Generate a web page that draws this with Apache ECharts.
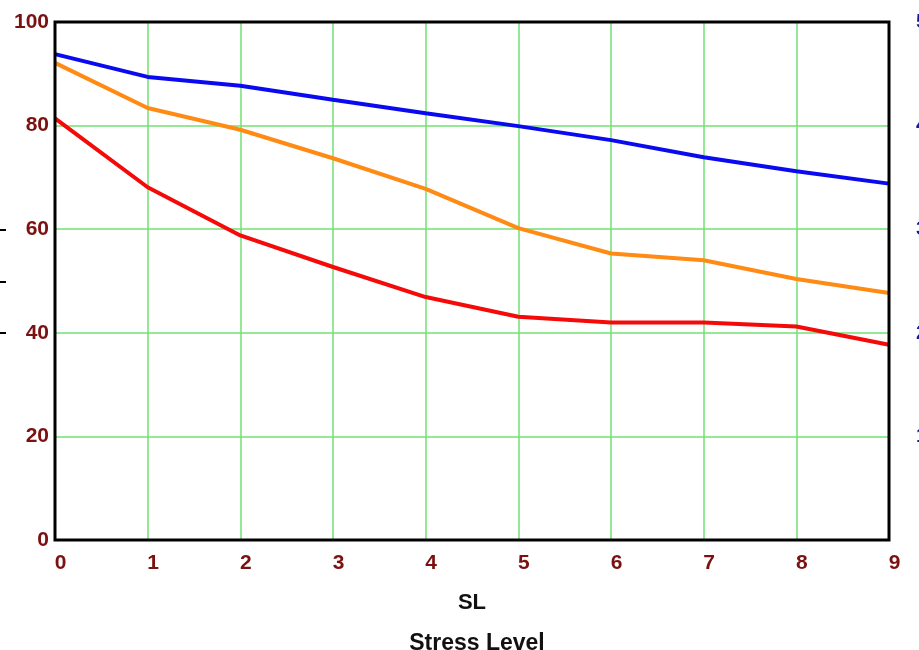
<!DOCTYPE html>
<html>
<head>
<meta charset="utf-8">
<script src="https://cdn.jsdelivr.net/npm/echarts@6/dist/echarts.min.js"></script>
<style>
html,body{margin:0;padding:0;background:#fff;}
#chart{width:919px;height:650px;}
</style>
</head>
<body>
<div id="chart"></div>
<script>
var categories = ['0','1','2','3','4','5','6','7','8','9'];
var blueValues = [93.8, 89.4, 87.7, 85.0, 82.4, 79.9, 77.2, 73.9, 71.2, 68.8];
var orangeValues = [92.1, 83.4, 79.2, 73.7, 67.8, 60.2, 55.3, 54.0, 50.4, 47.7];
var redValues = [81.4, 68.1, 58.8, 52.7, 46.9, 43.1, 42.0, 42.0, 41.2, 37.7];
var xAxisName = 'SL';
var titleText = 'Stress Level';

var labelFont = {fontFamily: 'Liberation Sans, Arial, sans-serif', fontWeight: 'bold', fontSize: 21};
var chart = echarts.init(document.getElementById('chart'), null, {renderer: 'canvas'});

function lineSeries(data, color) {
  return {
    type: 'line', data: data, xAxisIndex: 0, yAxisIndex: 0,
    symbol: 'none', smooth: false,
    lineStyle: {color: color, width: 4},
    z: 2
  };
}

chart.setOption({
  animation: false,
  backgroundColor: '#fff',
  title: {
    text: titleText, left: 472, top: 627, textAlign: 'center',
    textStyle: {fontFamily: 'Liberation Sans, Arial, sans-serif', fontWeight: 'bold', fontSize: 23, color: '#111'}
  },
  grid: [
    {left: 55, right: 30, top: 22, bottom: 110, show: true, borderColor: '#000', borderWidth: 3, z: 5,
     containLabel: false, outerBoundsMode: 'none'},
    {left: 6, width: 1, top: 230, height: 103, show: false, containLabel: false, outerBoundsMode: 'none'}
  ],
  xAxis: [
    {
      type: 'category', data: categories, boundaryGap: false, gridIndex: 0,
      name: xAxisName, nameLocation: 'middle', nameGap: 52,
      nameTextStyle: {fontFamily: 'Liberation Sans, Arial, sans-serif', fontWeight: 'bold', fontSize: 22, color: '#111'},
      axisLine: {show: false}, axisTick: {show: false},
      axisLabel: Object.assign({color: '#7b1111', margin: 13, padding: [0, 0, 0, 11]}, labelFont),
      splitLine: {show: true, lineStyle: {color: '#72e072', width: 1.5}}
    },
    {type: 'value', gridIndex: 1, show: false, min: 0, max: 1}
  ],
  yAxis: [
    {
      type: 'value', min: 0, max: 100, interval: 20, gridIndex: 0, position: 'left',
      axisLine: {show: false}, axisTick: {show: false},
      axisLabel: Object.assign({color: '#7b1111', margin: 6}, labelFont),
      splitLine: {show: true, lineStyle: {color: '#72e072', width: 1.5}}
    },
    {
      type: 'value', min: 0, max: 5, interval: 1, gridIndex: 0, position: 'right',
      axisLine: {show: false}, axisTick: {show: false},
      axisLabel: Object.assign({color: '#1a1590', margin: 27, showMinLabel: false}, labelFont),
      splitLine: {show: false}
    },
    {
      type: 'value', min: 0, max: 2, interval: 1, gridIndex: 1, position: 'left',
      axisLine: {show: false},
      axisTick: {show: true, length: 6, inside: false, lineStyle: {color: '#000', width: 2}},
      axisLabel: {show: false},
      splitLine: {show: false}
    }
  ],
  series: [
    lineSeries(blueValues, '#0a0af0'),
    lineSeries(orangeValues, '#ff8a14'),
    lineSeries(redValues, '#f50a0a')
  ]
});
</script>
</body>
</html>
